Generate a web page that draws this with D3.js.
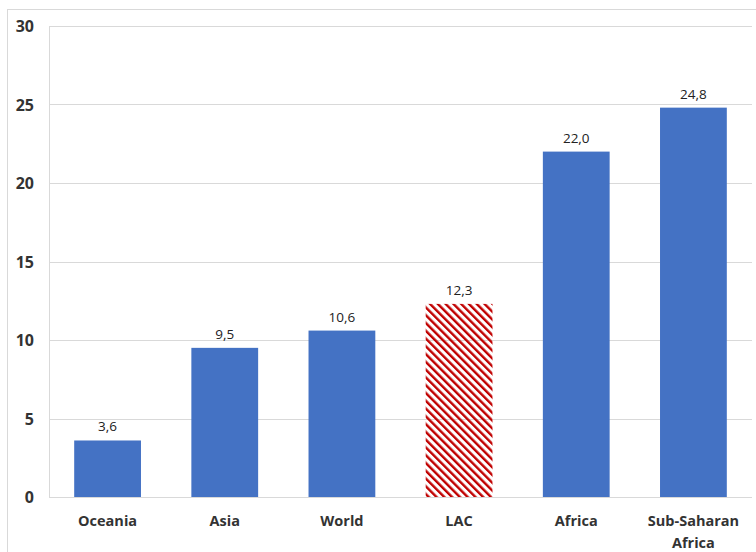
<!DOCTYPE html>
<html>
<head>
<meta charset="utf-8">
<script src="https://cdn.jsdelivr.net/npm/d3@7"></script>
<style>
  body { margin: 0; background: #fff; }
  text { font-family: "Open Sans", "Noto Sans", sans-serif; }
</style>
</head>
<body>
<script>
/* ---------------------------------- data ---------------------------------- */
const regions = ["Oceania", "Asia", "World", "LAC", "Africa", "Sub-Saharan Africa"]
const values = [3.6, 9.5, 10.6, 12.3, 22.0, 24.8]
const hatched = ["LAC"]
const yTicks = [0, 5, 10, 15, 20, 25, 30]

/* -------------------------- define document size -------------------------- */
const width = 756, height = 552
const margin = { top: 26, right: 4, bottom: 55, left: 49 }

const svg = d3.select("body").append("svg").attr("width", width).attr("height", height)

// outer chart frame
svg.append("rect")
    .attr("x", 7.5).attr("y", 9.5)
    .attr("width", width).attr("height", height)
    .attr("fill", "none").attr("stroke", "#d9d9d9")

// hatch pattern for LAC
const defs = svg.append("defs")
defs.append("pattern")
    .attr("id", "hatch")
    .attr("patternUnits", "userSpaceOnUse")
    .attr("width", 5.5).attr("height", 5.5)
    .attr("patternTransform", "rotate(-45)")
    .append("rect")
    .attr("x", 0).attr("y", 0)
    .attr("width", 2.4).attr("height", 5.5)
    .attr("fill", "#c00000")

//define scales
const x = d3.scaleBand()
    .domain(regions)
    .range([margin.left, width - margin.right])
    .paddingInner(0.43).paddingOuter(0.215)
const y = d3.scaleLinear()
    .domain([0, 30])
    .range([height - margin.bottom, margin.top])

//gridlines
svg.append("g")
    .selectAll("line").data(yTicks.filter(d => d > 0)).enter().append("line")
    .attr("x1", margin.left).attr("x2", width - margin.right)
    .attr("y1", d => Math.round(y(d)) + 0.5).attr("y2", d => Math.round(y(d)) + 0.5)
    .attr("stroke", "#d9d9d9")

//y axis line and baseline
svg.append("line")
    .attr("x1", margin.left + 0.5).attr("x2", margin.left + 0.5)
    .attr("y1", y(30)).attr("y2", y(0))
    .attr("stroke", "#d9d9d9")
svg.append("line")
    .attr("x1", margin.left).attr("x2", width - margin.right)
    .attr("y1", Math.round(y(0)) + 0.5).attr("y2", Math.round(y(0)) + 0.5)
    .attr("stroke", "#d9d9d9")

//y tick labels
svg.append("g")
    .selectAll("text").data(yTicks).enter().append("text")
    .attr("x", 34)
    .attr("y", d => y(d) + 6)
    .attr("text-anchor", "end")
    .attr("font-size", 16).attr("font-weight", "bold")
    .attr("fill", "#333")
    .text(d => d)

//bars
const data = regions.map((r, i) => ({ region: r, value: values[i] }))
const g = svg.append("g").selectAll("g").data(data).enter().append("g")
g.append("rect")
    .attr("x", d => x(d.region))
    .attr("y", d => y(d.value))
    .attr("width", x.bandwidth())
    .attr("height", d => y(0) - y(d.value))
    .attr("fill", d => hatched.includes(d.region) ? "url(#hatch)" : "#4472c4")

//value labels
g.append("text")
    .attr("x", d => x(d.region) + x.bandwidth() / 2)
    .attr("y", d => y(d.value) - 9)
    .attr("text-anchor", "middle")
    .attr("font-size", 13.5)
    .attr("fill", "#222")
    .text(d => d3.format(".1f")(d.value).replace(".", ","))

//category labels (wrapped)
const xl = svg.append("g").selectAll("text").data(regions).enter().append("text")
    .attr("x", d => x(d) + x.bandwidth() / 2)
    .attr("y", 526)
    .attr("text-anchor", "middle")
    .attr("font-size", 14.5).attr("font-weight", "bold")
    .attr("fill", "#333")
xl.each(function (d) {
    const words = d === "Sub-Saharan Africa" ? ["Sub-Saharan", "Africa"] : [d]
    words.forEach((w, i) => {
        d3.select(this).append("tspan")
            .attr("x", x(d) + x.bandwidth() / 2)
            .attr("dy", i === 0 ? 0 : 22)
            .text(w)
    })
})
</script>
</body>
</html>
